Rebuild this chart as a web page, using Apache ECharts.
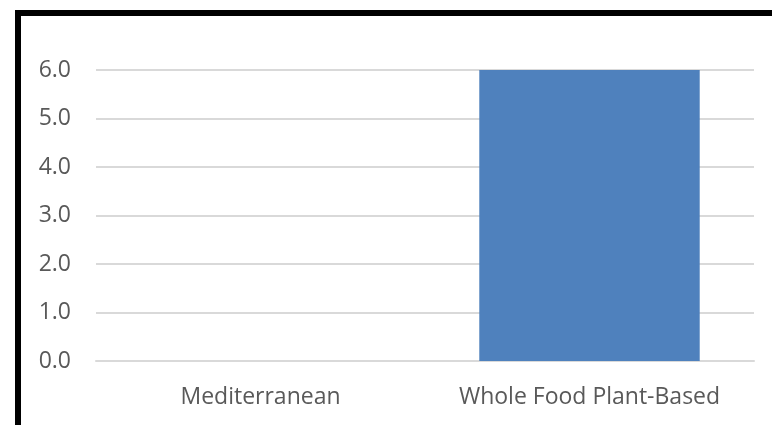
<!DOCTYPE html>
<html>
<head>
<meta charset="utf-8">
<script src="https://cdn.jsdelivr.net/npm/echarts@6/dist/echarts.min.js"></script>
<style>
  html, body { margin: 0; padding: 0; background: #fff; }
  #main { width: 772px; height: 425px; }
</style>
</head>
<body>
<div id="main"></div>
<script>
// data
var categories = ['Mediterranean', 'Whole Food Plant-Based'];
var values = [0, 6];

var chart = echarts.init(document.getElementById('main'), null, { renderer: 'canvas' });

var option = {
  animation: false,
  grid: { left: 96, right: 18, top: 70, bottom: 64 },
  // frame round the chart
  graphic: [{
    type: 'rect',
    left: 15, top: 10,
    shape: { width: 800, height: 500 },
    style: { fill: 'none', stroke: '#000', lineWidth: 6 },
    z: 100
  }],
  xAxis: {
    type: 'category',
    data: categories,
    axisLine: { show: true, lineStyle: { color: '#d9d9d9', width: 2 } },
    axisTick: { show: false },
    axisLabel: {
      interval: 0, hideOverlap: false,
      color: '#595959', fontSize: 23, fontFamily: 'Open Sans', margin: 25
    }
  },
  yAxis: {
    type: 'value',
    min: 0, max: 6, interval: 1,
    axisLine: { show: false },
    axisTick: { show: false },
    splitLine: { lineStyle: { color: '#d9d9d9', width: 2 } },
    axisLabel: {
      color: '#595959', fontSize: 23, fontFamily: 'Open Sans', margin: 25,
      formatter: function (v) { return v.toFixed(1); }
    }
  },
  series: [{
    type: 'bar',
    data: values,
    barWidth: '67%',
    itemStyle: { color: '#4f81bd' }
  }]
};

chart.setOption(option);
</script>
</body>
</html>
